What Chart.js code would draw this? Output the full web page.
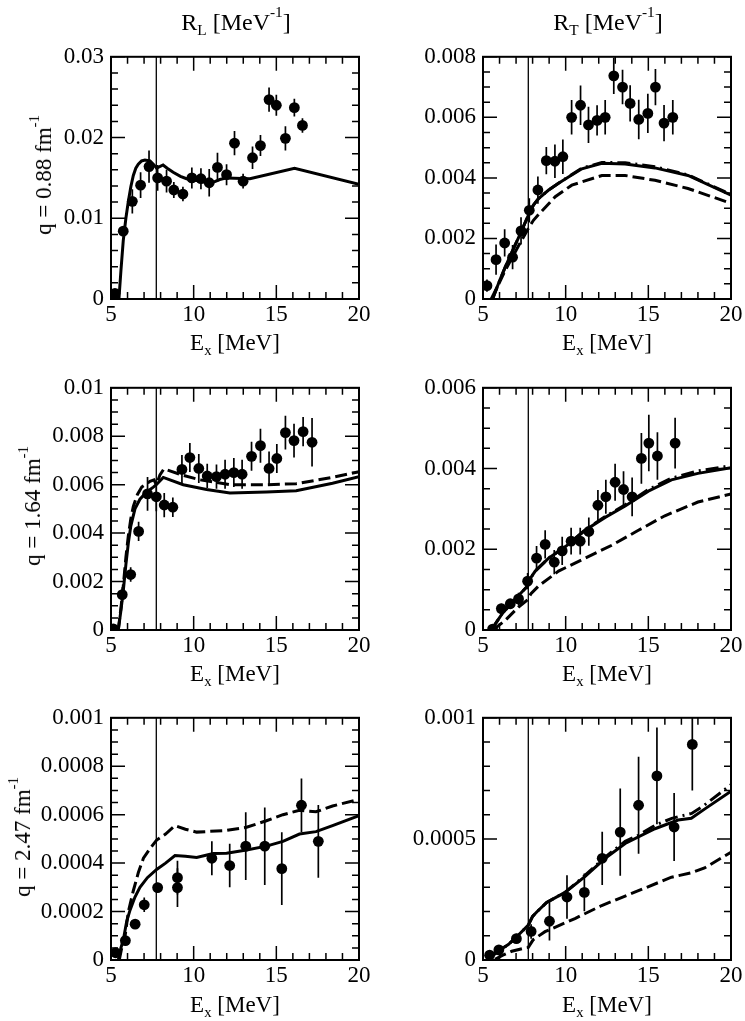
<!DOCTYPE html>
<html><head><meta charset="utf-8">
<script src="https://cdn.jsdelivr.net/npm/chart.js@4.4.1/dist/chart.umd.min.js"></script>
<style>
html,body{margin:0;padding:0;background:#fff;}
body{width:745px;height:1021px;position:relative;overflow:hidden;font-family:'Liberation Serif','Times New Roman',serif;}
canvas{position:absolute;}
.t{position:absolute;font-size:23px;line-height:23px;white-space:nowrap;color:#000;font-family:'Liberation Serif','Times New Roman',serif;}
.big{font-size:24px;}
.sub{font-size:0.64em;position:relative;top:0.35em;}
.sup{font-size:0.64em;position:relative;top:-0.85em;}
</style></head><body>
<script>
// ---------- DATA ----------
const threshold = 7.74; // vertical line, MeV
const xTickLabels = [5, 10, 15, 20];

// R_L, q = 0.88 fm^-1
const rlQ1E   = [5.24,5.74,6.29,6.79,7.30,7.82,8.36,8.80,9.35,9.89,10.44,10.94,11.44,11.99,12.47,12.99,13.56,14.04,14.56,15.00,15.55,16.09,16.58];
const rlQ1V   = [0.0007,0.0084,0.0121,0.0141,0.0164,0.0150,0.0146,0.0135,0.0130,0.0150,0.0149,0.0144,0.0163,0.0154,0.0193,0.0146,0.0175,0.0190,0.0247,0.0240,0.0199,0.0237,0.0215];
const rlQ1Err = [0.0004,0.0005,0.0015,0.0016,0.0020,0.0016,0.0014,0.0010,0.0009,0.0013,0.0013,0.0017,0.0018,0.0013,0.0015,0.0009,0.0014,0.0013,0.0015,0.0013,0.0015,0.0011,0.0009];
const rlQ1SolidE = [5.48,5.6,5.74,5.9,6.05,6.2,6.35,6.5,6.65,6.85,7.05,7.36,7.6,7.76,8.15,8.4,8.76,9.2,9.57,10.38,11.0,11.58,11.99,13.4,16.1,20];
const rlQ1SolidV = [0,0.0035,0.0072,0.0100,0.0121,0.0139,0.0153,0.0162,0.0167,0.0171,0.0172,0.0171,0.0166,0.0162,0.0166,0.0162,0.0157,0.0152,0.0149,0.0146,0.0143,0.0148,0.0150,0.0149,0.0162,0.0142];

// R_T, q = 0.88 fm^-1
const rtQ1E   = [5.24,5.79,6.31,6.79,7.30,7.80,8.32,8.83,9.35,9.83,10.36,10.90,11.38,11.90,12.39,12.91,13.44,13.90,14.42,14.97,15.43,15.95,16.48];
const rtQ1V   = [0.00044,0.0013,0.00185,0.00138,0.00225,0.00293,0.0036,0.00457,0.00455,0.0047,0.0060,0.0064,0.00575,0.0059,0.0060,0.00737,0.0070,0.00646,0.00593,0.00613,0.0070,0.00581,0.0060];
const rtQ1Err = [0.0002,0.0005,0.00045,0.0004,0.00045,0.0004,0.00045,0.00045,0.00055,0.00057,0.00057,0.00065,0.0006,0.0005,0.00057,0.0006,0.00057,0.0006,0.00065,0.00065,0.0006,0.0006,0.00057];
const rtQ1SolidE = [5.58,6.0,6.35,6.75,7.15,7.45,7.76,8.05,8.36,8.97,9.5,10.17,10.98,12.19,13.6,15.4,17.4,20];
const rtQ1SolidV = [0,0.0006,0.00106,0.00155,0.00203,0.0024,0.00279,0.0031,0.00332,0.0036,0.0038,0.00403,0.0043,0.00448,0.00446,0.00433,0.00408,0.00343];
const rtQ1DashDotV = [0,0.0006,0.00106,0.00155,0.00203,0.0024,0.00279,0.0031,0.00332,0.0036,0.0038,0.00404,0.00432,0.00451,0.0045,0.00437,0.0041,0.00345];
const rtQ1DashE = [5.5,6.0,6.35,6.75,7.15,7.45,7.76,8.05,8.36,9.37,10.37,12.19,13.6,15.4,17.4,20];
const rtQ1DashV = [0,0.00055,0.00095,0.00135,0.00176,0.00205,0.00235,0.0026,0.00279,0.00338,0.00376,0.00408,0.00408,0.00392,0.00365,0.00316];

// R_L, q = 1.64 fm^-1
const rlQ2E   = [5.14,5.68,6.19,6.67,7.21,7.74,8.22,8.74,9.29,9.77,10.31,10.82,11.38,11.90,12.43,12.93,13.50,14.04,14.56,15.03,15.55,16.07,16.62,17.16];
const rlQ2V   = [0.00005,0.00146,0.00229,0.00407,0.00562,0.0055,0.00516,0.00507,0.00663,0.00712,0.00667,0.00636,0.00633,0.00643,0.0065,0.00643,0.00717,0.00761,0.00667,0.00708,0.00815,0.00782,0.00819,0.00775];
const rlQ2Err = [0.0002,0.0003,0.0003,0.0004,0.0007,0.0006,0.0005,0.0004,0.0006,0.0006,0.0006,0.0005,0.0005,0.0006,0.0006,0.0006,0.0006,0.0007,0.0007,0.0006,0.0007,0.0007,0.0006,0.001];
const rlQ2SolidE = [5.44,5.6,5.74,5.9,6.05,6.2,6.45,6.75,7.16,7.56,7.74,8.16,9.37,10.78,12.19,14.4,16.2,18.4,20];
const rlQ2SolidV = [0,0.0008,0.0016,0.0027,0.0036,0.0043,0.0050,0.0054,0.0057,0.0059,0.0060,0.0063,0.0060,0.0058,0.00566,0.0057,0.00575,0.00606,0.00633];
const rlQ2DashE = [5.44,5.6,5.74,5.9,6.05,6.2,6.35,6.6,6.86,7.36,7.6,7.74,7.96,8.2,9.3,10.38,12.19,14.4,16.2,18.4,20];
const rlQ2DashV = [0,0.0009,0.0018,0.003,0.0039,0.0046,0.0051,0.0056,0.0059,0.00614,0.0062,0.0060,0.0064,0.00665,0.0064,0.0062,0.0060,0.0060,0.00604,0.0063,0.00654];

// R_T, q = 1.64 fm^-1
const rtQ2E   = [5.58,6.11,6.65,7.15,7.70,8.24,8.76,9.31,9.79,10.33,10.88,11.40,11.95,12.43,12.99,13.50,14.02,14.58,15.03,15.55,16.62];
const rtQ2V   = [0.00002,0.00053,0.00065,0.00077,0.00121,0.00178,0.00212,0.00168,0.00196,0.0022,0.0022,0.00244,0.00309,0.0033,0.00366,0.00348,0.0033,0.00425,0.00463,0.00431,0.00463];
const rtQ2Err = [0.0001,0.00012,0.00012,0.00015,0.0002,0.0003,0.00035,0.0003,0.00035,0.00033,0.00033,0.00035,0.00038,0.00042,0.00046,0.00045,0.00048,0.00063,0.0007,0.00059,0.00063];
const rtQ2SolidE = [5.5,6.15,6.95,7.7,7.9,8.16,8.97,9.97,11.18,12.39,13.6,15.0,16.4,18.0,20];
const rtQ2SolidV = [0,0.0004,0.00077,0.00109,0.0013,0.00146,0.00178,0.00206,0.00247,0.00279,0.00307,0.00344,0.00372,0.00388,0.00402];
const rtQ2DashDotV = [0,0.0004,0.00077,0.00109,0.0013,0.00146,0.00178,0.00206,0.00248,0.00281,0.0031,0.00348,0.00376,0.00394,0.00407];
const rtQ2DashE = [5.6,6.35,7.15,7.7,7.9,8.36,9.57,11.18,12.79,14.4,16.0,18.0,20];
const rtQ2DashV = [0,0.00024,0.00057,0.00075,0.0009,0.00109,0.00146,0.00178,0.0021,0.00247,0.00283,0.00317,0.00337];

// R_L, q = 2.47 fm^-1
const rlQ3E   = [5.28,5.87,6.46,7.01,7.82,9.02,9.02,11.10,12.18,13.15,14.30,15.33,16.52,17.54];
const rlQ3V   = [0.00003,0.00008,0.000148,0.000228,0.000299,0.000299,0.00034,0.00042,0.00039,0.00047,0.00047,0.000377,0.000639,0.00049];
const rlQ3Err = [0.00001,0.00002,0.00001,0.00003,0.00002,0.00008,0.00007,0.00007,0.00009,0.00014,0.00016,0.00015,0.00011,0.00015];
const rlQ3SolidE = [5.44,5.6,5.75,5.95,6.15,6.45,6.75,7.2,7.76,8.3,8.87,9.5,10.18,11.18,11.99,13.2,14.4,15.4,16.4,17.4,18.4,20];
const rlQ3SolidV = [0,0.00005,0.000085,0.00016,0.000206,0.00026,0.0003,0.00034,0.000374,0.0004,0.000431,0.000428,0.000423,0.00044,0.000441,0.000454,0.00047,0.00049,0.00052,0.00053,0.000555,0.000596];
const rlQ3DashE = [5.5,5.65,5.85,6.05,6.35,6.65,6.96,7.36,7.76,8.3,8.87,9.5,10.18,11.99,13.2,14.4,15.4,16.4,17.4,18.4,20];
const rlQ3DashV = [0,0.00005,0.000098,0.0002,0.000286,0.00036,0.00042,0.00046,0.000495,0.00052,0.000555,0.00054,0.000528,0.000535,0.000548,0.000575,0.0006,0.000618,0.000612,0.000636,0.000663];

// R_T, q = 2.47 fm^-1
const rtQ3E   = [5.40,5.96,7.02,7.91,9.02,10.08,11.13,12.21,13.30,14.41,15.52,16.56,17.66];
const rtQ3V   = [0.00002,0.000042,0.000088,0.000118,0.00016,0.00026,0.000279,0.00042,0.000528,0.000639,0.00076,0.000549,0.00089];
const rtQ3Err = [0.00001,0.00002,0.00002,0.00003,0.00008,0.00009,0.000078,0.00011,0.00018,0.0002,0.0002,0.00014,0.00019];
const rtQ3SolidE = [5.42,6.0,6.53,7.1,7.74,8.0,8.25,8.85,9.96,11.18,12.39,13.6,15.4,16.8,17.6,18.4,20];
const rtQ3SolidV = [0.00001,0.00004,0.0000635,0.0001,0.000144,0.00018,0.000198,0.000238,0.000279,0.000345,0.00042,0.000481,0.000542,0.000578,0.000585,0.000623,0.000697];
const rtQ3DashDotE = [5.42,6.0,6.53,7.1,7.74,8.0,8.25,8.85,9.96,11.18,12.39,13.6,14.4,15.4,16.42,17.0,17.62,18.4,20];
const rtQ3DashDotV = [0.00001,0.00004,0.0000635,0.0001,0.000144,0.00018,0.000198,0.000238,0.000279,0.00035,0.000425,0.00049,0.000515,0.000556,0.000585,0.000595,0.000605,0.00064,0.000724];
const rtQ3DashE = [5.73,6.2,6.74,7.54,7.74,8.04,8.75,10.56,12.18,14.4,16.4,17.6,18.4,20];
const rtQ3DashV = [0.000003,0.00002,0.000036,0.00005,0.000052,0.000084,0.000117,0.000171,0.000225,0.000286,0.000342,0.00036,0.00038,0.000445];

// ---------- STYLE / LAYOUT ----------
const FONT = "'Liberation Serif','Times New Roman',serif";
const SOLID = [], DASHED = [12, 5], DASHDOT = [13, 5, 2, 5];
const PW = 248, PH = 247, YW = 105, PADT = 16, PADR = 16, XH = 34;

const panels = [
  {left:111, top:52,  yMax:0.03,  yMajor:0.01,   yMinor:0.002,
   E:rlQ1E, V:rlQ1V, Err:rlQ1Err,
   curves:[{E:rlQ1SolidE, V:rlQ1SolidV, dash:SOLID}]},
  {left:483, top:52,  yMax:0.008, yMajor:0.002,  yMinor:0.0005,
   E:rtQ1E, V:rtQ1V, Err:rtQ1Err,
   curves:[{E:rtQ1SolidE, V:rtQ1SolidV, dash:SOLID},{E:rtQ1SolidE, V:rtQ1DashDotV, dash:DASHDOT},{E:rtQ1DashE, V:rtQ1DashV, dash:DASHED}]},
  {left:111, top:383, yMax:0.01,  yMajor:0.002,  yMinor:0.0005,
   E:rlQ2E, V:rlQ2V, Err:rlQ2Err,
   curves:[{E:rlQ2SolidE, V:rlQ2SolidV, dash:SOLID},{E:rlQ2DashE, V:rlQ2DashV, dash:DASHED}]},
  {left:483, top:383, yMax:0.006, yMajor:0.002,  yMinor:0.0005,
   E:rtQ2E, V:rtQ2V, Err:rtQ2Err,
   curves:[{E:rtQ2SolidE, V:rtQ2SolidV, dash:SOLID},{E:rtQ2SolidE, V:rtQ2DashDotV, dash:DASHDOT},{E:rtQ2DashE, V:rtQ2DashV, dash:DASHED}]},
  {left:111, top:713, yMax:0.001, yMajor:0.0002, yMinor:0.00005,
   E:rlQ3E, V:rlQ3V, Err:rlQ3Err,
   curves:[{E:rlQ3SolidE, V:rlQ3SolidV, dash:SOLID},{E:rlQ3DashE, V:rlQ3DashV, dash:DASHED}]},
  {left:483, top:713, yMax:0.001, yMajor:0.0005, yMinor:0.0001,
   E:rtQ3E, V:rtQ3V, Err:rtQ3Err,
   curves:[{E:rtQ3SolidE, V:rtQ3SolidV, dash:SOLID},{E:rtQ3DashDotE, V:rtQ3DashDotV, dash:DASHDOT},{E:rtQ3DashE, V:rtQ3DashV, dash:DASHED}]}
];

const zip = (E, V) => E.map((e, i) => ({x: e, y: V[i]}));
const fmt = v => { const s = parseFloat(Number(v).toPrecision(6)); return Math.abs(s) < 1e-12 ? '0' : String(s); };

const errorBars = {
  id: 'errorBars',
  beforeDatasetsDraw(chart) {
    const ctx = chart.ctx, xs = chart.scales.x, ys = chart.scales.y, a = chart.chartArea;
    ctx.save();
    ctx.beginPath(); ctx.rect(a.left, a.top, a.right - a.left, a.bottom - a.top); ctx.clip();
    ctx.strokeStyle = '#000'; ctx.lineWidth = 1.7;
    chart.data.datasets.forEach(ds => {
      if (!ds.errors) return;
      ds.data.forEach((p, i) => {
        const e = ds.errors[i], px = xs.getPixelForValue(p.x);
        ctx.beginPath();
        ctx.moveTo(px, ys.getPixelForValue(p.y - e));
        ctx.lineTo(px, ys.getPixelForValue(p.y + e));
        ctx.stroke();
      });
    });
    ctx.restore();
  }
};

const frameTicks = {
  id: 'frameTicks',
  afterDraw(chart, args, opts) {
    const ctx = chart.ctx, xs = chart.scales.x, ys = chart.scales.y, a = chart.chartArea;
    ctx.save();
    ctx.strokeStyle = '#000'; ctx.lineWidth = 1.5;
    ctx.beginPath();
    for (let v = 5; v <= 20; v += 1) {
      const px = xs.getPixelForValue(v), len = (v % 5 === 0) ? 14 : 7;
      ctx.moveTo(px, a.bottom); ctx.lineTo(px, a.bottom - len);
      ctx.moveTo(px, a.top); ctx.lineTo(px, a.top + len);
    }
    const n = Math.round(opts.yMax / opts.yMinor);
    for (let i = 0; i <= n; i++) {
      const v = i * opts.yMinor;
      const r = v / opts.yMajor, major = Math.abs(r - Math.round(r)) < 1e-6;
      const py = ys.getPixelForValue(v), len = major ? 14 : 7;
      ctx.moveTo(a.left, py); ctx.lineTo(a.left + len, py);
      ctx.moveTo(a.right, py); ctx.lineTo(a.right - len, py);
    }
    ctx.stroke();
    ctx.lineWidth = 2;
    ctx.strokeRect(a.left, a.top, a.right - a.left, a.bottom - a.top);
    ctx.restore();
  }
};

panels.forEach(p => {
  const c = document.createElement('canvas');
  const w = YW + PW + PADR, h = PADT + PH + XH;
  c.width = w; c.height = h;
  c.style.left = (p.left - YW) + 'px'; c.style.top = (p.top - PADT) + 'px';
  c.style.width = w + 'px'; c.style.height = h + 'px';
  document.body.appendChild(c);

  const datasets = [{
    data: zip(p.E, p.V), errors: p.Err, showLine: false,
    pointRadius: 5.4, pointHoverRadius: 5.4, pointBackgroundColor: '#000', pointBorderWidth: 0, borderColor: '#000'
  }];
  p.curves.forEach(cv => datasets.push({
    data: zip(cv.E, cv.V), showLine: true, pointRadius: 0, borderColor: '#000',
    borderWidth: 3, borderDash: cv.dash, tension: 0, fill: false
  }));
  datasets.push({
    data: [{x: threshold, y: 0}, {x: threshold, y: p.yMax}], showLine: true, pointRadius: 0,
    borderColor: '#000', borderWidth: 1.3, fill: false
  });

  new Chart(c, {
    type: 'scatter',
    data: {datasets},
    options: {
      responsive: false, animation: false, events: [],
      layout: {padding: {left: 0, top: PADT, right: PADR, bottom: 0}},
      plugins: {legend: {display: false}, tooltip: {enabled: false}, frameTicks: {yMax: p.yMax, yMinor: p.yMinor, yMajor: p.yMajor}},
      scales: {
        x: {type: 'linear', min: 5, max: 20,
            grid: {display: false, drawTicks: false}, border: {display: false},
            afterBuildTicks: s => { s.ticks = xTickLabels.map(v => ({value: v})); },
            ticks: {stepSize: 5, autoSkip: false, maxRotation: 0, padding: 2, color: '#000', font: {family: FONT, size: 23}, callback: fmt},
            afterFit: s => { s.height = XH; }},
        y: {type: 'linear', min: 0, max: p.yMax,
            grid: {display: false, drawTicks: false}, border: {display: false},
            ticks: {stepSize: p.yMajor, autoSkip: false, padding: 7, color: '#000', font: {family: FONT, size: 23}, callback: fmt},
            afterFit: s => { s.width = YW; }}
      }
    },
    plugins: [errorBars, frameTicks]
  });
});

// ---------- TEXT ----------
function addText(html, x, baseline, cls) {
  const d = document.createElement('div');
  d.className = 't' + (cls ? ' ' + cls : ''); d.innerHTML = html;
  d.style.left = x + 'px'; d.style.top = (baseline - 19.3) + 'px';
  d.style.transform = 'translateX(-50%)';
  document.body.appendChild(d);
}
function addVText(html, cx, cy) {
  const d = document.createElement('div');
  d.className = 't'; d.innerHTML = html;
  d.style.left = cx + 'px'; d.style.top = cy + 'px';
  d.style.transform = 'translate(-50%,-50%) rotate(-90deg)';
  document.body.appendChild(d);
}
const xTitle = 'E<span class="sub">x</span> [MeV]';
addText('R<span class="sub">L</span> [MeV<span class="sup">-1</span>]', 236, 30, 'big');
addText('R<span class="sub">T</span> [MeV<span class="sup">-1</span>]', 608, 30, 'big');
[299, 630, 961].forEach(b => { addText(xTitle, 235, b + 51); addText(xTitle, 607, b + 51); });
addVText('q = 0.88 fm<span class="sup">-1</span>', 45, 175);
addVText('q = 1.64 fm<span class="sup">-1</span>', 34, 506);
addVText('q = 2.47 fm<span class="sup">-1</span>', 24, 837);
</script>
</body></html>
